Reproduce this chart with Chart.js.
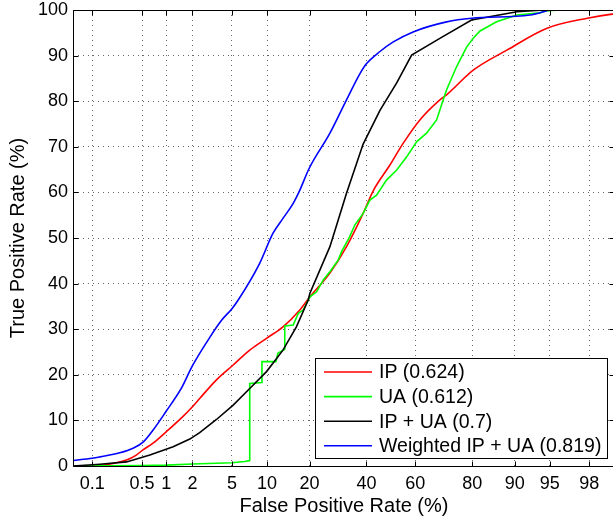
<!DOCTYPE html>
<html>
<head>
<meta charset="utf-8">
<script src="https://cdn.jsdelivr.net/npm/chart.js@4.4.1/dist/chart.umd.min.js"></script>
<style>
  html, body { margin: 0; padding: 0; background: #fff; overflow: hidden; }
  #wrap { width: 618px; height: 521px; }
</style>
</head>
<body>
<div id="wrap"><canvas id="roc" width="618" height="521"></canvas></div>
<script>
// ROC curves, false positive rate on a normal probability axis

const xTickLabels = ['0.1', '0.5', '1', '2', '5', '10', '20', '40', '60', '80', '90', '95', '98'];
const xTickValues = [0.1, 0.5, 1, 2, 5, 10, 20, 40, 60, 80, 90, 95, 98];
const yTickValues = [0, 10, 20, 30, 40, 50, 60, 70, 80, 90, 100];

// IP (0.624)
const ipFpr = [0.05, 0.1, 0.15, 0.21, 0.31, 0.42, 0.51, 0.69, 1.0, 1.5, 2.0, 2.39, 3.55, 5.1, 7.2, 9.9, 13.2, 17.3, 20.1,
               26.4, 32.3, 38.7, 42.7, 49.6, 55.1, 61.8, 69.4, 71.8, 80.3, 88.5, 94.7, 97.9, 98.9, 99.5];
const ipTpr = [0, 0, 0.2, 0.6, 1.3, 2.4, 3.5, 5.0, 7.5, 10.5, 13.0, 14.8, 18.9, 22.1, 25.4, 28.0, 30.5, 34.2, 37.1,
               42.3, 48.1, 55.4, 60.3, 66.0, 70.8, 75.9, 80.3, 81.4, 86.8, 91.2, 96.0, 98.2, 99.1, 99.5];

// UA (0.612)
const uaFpr = [0.05, 0.5, 1, 2, 5, 6.5, 7.2, 7.2, 9.1, 9.1, 11.7, 12.1, 13.2, 13.6, 13.6, 15.6, 16.9, 18.2, 20.1,
               22.1, 24.2, 26.4, 29.3, 30.5, 33.5, 35.5, 38.7, 41.4, 44.1, 48.2, 52.4, 56.5, 60.5, 64.4, 68.2,
               70.6, 71.8, 75.2, 78.3, 80.3, 82.2, 86.3, 90.4, 93.9, 94.5, 96, 99.5];
const uaTpr = [0, 0.1, 0.2, 0.45, 0.7, 1.0, 1.2, 18.1, 18.3, 22.9, 22.9, 24.7, 25.4, 25.6, 30.7, 30.9, 33.5, 34.2, 37.1,
               38.2, 40.8, 42.6, 45.2, 47.0, 50.3, 52.9, 55.4, 58.3, 59.4, 62.7, 64.9, 67.8, 71.1, 73.0, 75.9,
               80.3, 82.5, 87.6, 91.8, 93.8, 95.4, 97.4, 98.9, 99.4, 99.8, 100, 100];

// IP + UA (0.7)
const bothFpr = [0.05, 0.13, 0.31, 0.63, 1.21, 1.87, 2.39, 3.55, 5.1, 7.2, 9.9, 13.2, 16.4, 19.6, 20.1,
                 26.4, 32.3, 38.7, 45.5, 52.4, 58.5, 70, 79.8, 90.4, 94.3, 99.5];
const bothTpr = [0, 0.4, 0.9, 2.4, 4.2, 5.9, 7.3, 10.2, 13.3, 17.0, 20.7, 25.4, 30.5, 36.4, 37.9,
                 48.1, 59.8, 70.6, 78.0, 84.0, 90.1, 94.0, 97.8, 99.6, 100, 100];

// Weighted IP + UA (0.819)
const wFpr = [0.05, 0.1, 0.13, 0.25, 0.38, 0.52, 0.7, 1, 1.5, 2, 3, 4, 5, 5.7, 8.7, 11.1, 13.2, 15.6, 17.3, 19.9,
              26.4, 32.3, 37.4, 40, 45.5, 51, 59.1, 71.8, 79.8, 92.5, 94.3, 95, 99.5];
const wTpr = [1.2, 1.7, 2.0, 2.9, 3.9, 5.3, 8, 12, 17, 22, 28, 32, 34.5, 36.4, 44.4, 51.0, 54.3, 57.6, 60.5, 65.3,
              73.0, 80.3, 86.0, 88.2, 90.9, 93.0, 95.2, 97.4, 98.2, 98.9, 99.6, 100, 100];

// inverse normal CDF (Acklam), used as the axis transform
function probit(p) {
  const a = [-3.969683028665376e+01, 2.209460984245205e+02, -2.759285104469687e+02, 1.383577518672690e+02, -3.066479806614716e+01, 2.506628277459239e+00];
  const b = [-5.447609879822406e+01, 1.615858368580409e+02, -1.556989798598866e+02, 6.680131188771972e+01, -1.328068155288572e+01];
  const c = [-7.784894002430293e-03, -3.223964580411365e-01, -2.400758277161838e+00, -2.549732539343734e+00, 4.374664141464968e+00, 2.938163982698783e+00];
  const d = [7.784695709041462e-03, 3.224671290700398e-01, 2.445134137142996e+00, 3.754408661907416e+00];
  const pl = 0.02425;
  let q, r;
  if (p < pl) {
    q = Math.sqrt(-2 * Math.log(p));
    return (((((c[0]*q+c[1])*q+c[2])*q+c[3])*q+c[4])*q+c[5]) / ((((d[0]*q+d[1])*q+d[2])*q+d[3])*q+1);
  }
  if (p <= 1 - pl) {
    q = p - 0.5; r = q * q;
    return (((((a[0]*r+a[1])*r+a[2])*r+a[3])*r+a[4])*r+a[5])*q / (((((b[0]*r+b[1])*r+b[2])*r+b[3])*r+b[4])*r+1);
  }
  q = Math.sqrt(-2 * Math.log(1 - p));
  return -(((((c[0]*q+c[1])*q+c[2])*q+c[3])*q+c[4])*q+c[5]) / ((((d[0]*q+d[1])*q+d[2])*q+d[3])*q+1);
}

function toPoints(fpr, tpr) {
  return fpr.map((f, i) => ({ x: probit(f / 100), y: tpr[i] }));
}

const FONT = '"Liberation Sans", Arial, Helvetica, sans-serif';
Chart.defaults.color = '#000';
Chart.defaults.font.family = FONT;

// axes box, inward ticks and the boxed legend, MATLAB style
const framePlugin = {
  id: 'frame',
  afterDraw(chart) {
    const { ctx, chartArea: ca, scales } = chart;
    const L = ca.left + 0.5, R = ca.right - 0.5, T = ca.top + 0.5, B = ca.bottom + 0.5;
    ctx.save();
    ctx.strokeStyle = '#000';
    ctx.lineWidth = 1;
    ctx.beginPath();
    ctx.moveTo(L, T); ctx.lineTo(R, T); ctx.lineTo(R, B); ctx.lineTo(L, B); ctx.closePath();
    const tl = 5;
    xTickValues.forEach(v => {
      const px = Math.round(scales.x.getPixelForValue(probit(v / 100))) + 0.5;
      ctx.moveTo(px, B); ctx.lineTo(px, B - tl);
      ctx.moveTo(px, T); ctx.lineTo(px, T + tl);
    });
    yTickValues.forEach(v => {
      const py = Math.round(scales.y.getPixelForValue(v)) + 0.5;
      ctx.moveTo(L, py); ctx.lineTo(L + tl, py);
      ctx.moveTo(R, py); ctx.lineTo(R - tl, py);
    });
    ctx.stroke();

    // legend
    const bx = 315.5, by = 358.5, bw = 292, bh = 100;
    ctx.fillStyle = '#fff';
    ctx.fillRect(bx, by, bw, bh);
    ctx.strokeRect(bx, by, bw, bh);
    ctx.font = '19.5px ' + FONT;
    ctx.textBaseline = 'middle';
    ctx.textAlign = 'left';
    chart.data.datasets.forEach((ds, i) => {
      const y = 372 + i * 24.6;
      ctx.strokeStyle = ds.borderColor;
      ctx.lineWidth = 1.6;
      ctx.beginPath();
      ctx.moveTo(324, y); ctx.lineTo(372, y);
      ctx.stroke();
      ctx.fillStyle = '#000';
      ctx.fillText(ds.label, 379, y + 1);
    });
    ctx.restore();
  }
};

const ctx = document.getElementById('roc').getContext('2d');
new Chart(ctx, {
  type: 'line',
  data: {
    datasets: [
      { label: 'IP (0.624)', data: toPoints(ipFpr, ipTpr), borderColor: '#ff0000', order: 4, cubicInterpolationMode: 'monotone' },
      { label: 'UA (0.612)', data: toPoints(uaFpr, uaTpr), borderColor: '#00ff00', order: 3 },
      { label: 'IP + UA (0.7)', data: toPoints(bothFpr, bothTpr), borderColor: '#000000', order: 2 },
      { label: 'Weighted IP + UA (0.819)', data: toPoints(wFpr, wTpr), borderColor: '#0000ff', order: 1, cubicInterpolationMode: 'monotone' }
    ]
  },
  options: {
    responsive: false,
    animation: false,
    devicePixelRatio: 1,
    layout: { padding: { left: 0, right: 3, top: 10, bottom: 0 } },
    elements: {
      line: { borderWidth: 1.6, tension: 0, fill: false },
      point: { radius: 0, hoverRadius: 0 }
    },
    plugins: {
      legend: { display: false },
      tooltip: { enabled: false }
    },
    scales: {
      x: {
        type: 'linear',
        min: probit(0.0005),
        max: 2.32,
        afterBuildTicks: scale => {
          scale.ticks = xTickValues.map(v => ({ value: probit(v / 100) }));
        },
        afterFit: scale => {
          scale.height = 55;
          scale.paddingLeft = 0;
          scale.paddingRight = 0;
        },
        ticks: {
          autoSkip: false,
          maxRotation: 0,
          padding: 7,
          font: { size: 18 },
          callback: (value, index) => xTickLabels[index]
        },
        grid: { color: 'rgba(0,0,0,0.6)', lineWidth: 1, drawTicks: false },
        border: { display: false, dash: [1, 4] },
        title: {
          display: true,
          text: 'False Positive Rate (%)',
          font: { size: 20 },
          padding: { top: 0, bottom: 3 }
        }
      },
      y: {
        min: 0,
        max: 100,
        afterBuildTicks: scale => {
          scale.ticks = yTickValues.map(v => ({ value: v }));
        },
        afterFit: scale => {
          scale.width = 73;
          scale.paddingTop = 0;
          scale.paddingBottom = 0;
        },
        ticks: {
          padding: 5,
          font: { size: 18 }
        },
        grid: { color: 'rgba(0,0,0,0.6)', lineWidth: 1, drawTicks: false },
        border: { display: false, dash: [1, 4] },
        title: {
          display: true,
          text: 'True Positive Rate (%)',
          font: { size: 20 },
          padding: { top: 6, bottom: 0 }
        }
      }
    }
  },
  plugins: [framePlugin]
});
</script>
</body>
</html>
